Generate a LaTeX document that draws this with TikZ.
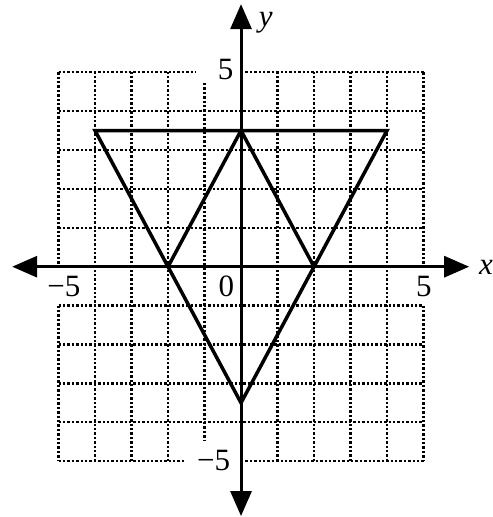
\documentclass[tikz,border=0pt]{standalone}
\usepackage{fontspec}
\setmainfont{Liberation Serif}
\usetikzlibrary{arrows.meta}
\begin{document}
\begin{tikzpicture}[x=36.5pt,y=38.9pt,
  gridline/.style={line width=2.3pt, dash pattern=on 2.4pt off 2pt},
  triline/.style={line width=3.5pt, line join=miter},
  axisline/.style={line width=3pt, {Triangle[length=25pt,width=21pt]}-{Triangle[length=25pt,width=21pt]}},
  lbl/.style={font=\fontsize{31}{31}\selectfont, inner sep=0pt}]
\useasboundingbox (-6.603,-6.434) rectangle (6.877,6.856);
% grid
\foreach \y in {-4,-3,-2,-1,1,2,3,4} \draw[gridline] (-5,\y) -- (5,\y);
\draw[gridline] (-5,5) -- (-1.26,5) (0,5) -- (5,5);
\draw[gridline] (-5,-5) -- (-1.53,-5) (0,-5) -- (5,-5);
\foreach \x in {-4,-3,-2,1,2,3,4} \draw[gridline] (\x,-5) -- (\x,5);
\draw[gridline] (-1,4.72) -- (-1,-4.45);
\foreach \x in {-5,5} \draw[gridline] (\x,5) -- (\x,0) (\x,-1) -- (\x,-5);
% triangles
\coordinate (A) at (-4,3.5);
\coordinate (B) at (4,3.5);
\coordinate (C) at (0,-3.5);
\coordinate (D) at (-2,0);
\coordinate (E) at (0,3.5);
\coordinate (F) at (2,0);
\draw[triline] (A) -- (B) -- (C) -- cycle;
\draw[triline] (D) -- (E) -- (F);
% axes
\coordinate (xl) at (-6.27,0);
\coordinate (xr) at (6.25,0);
\coordinate (yt) at (0,6.75);
\coordinate (yb) at (0,-6.41);
\draw[axisline] (xl) -- (xr);
\draw[axisline] (yb) -- (yt);
% labels
\node[lbl] (l5t) at (-0.42,5.08) {5};
\node[lbl] (l5b) at (-0.75,-4.99) {−5};
\node[lbl] (l0) at (-0.40,-0.51) {0};
\node[lbl] (l5l) at (-4.85,-0.50) {−5};
\node[lbl] (l5r) at (5.01,-0.52) {5};
\node[lbl,font=\fontsize{31}{31}\selectfont\itshape] (ly) at (0.68,6.27) {y};
\node[lbl,font=\fontsize{31}{31}\selectfont\itshape] (lx) at (6.71,-0.02) {x};
\end{tikzpicture}
\end{document}
